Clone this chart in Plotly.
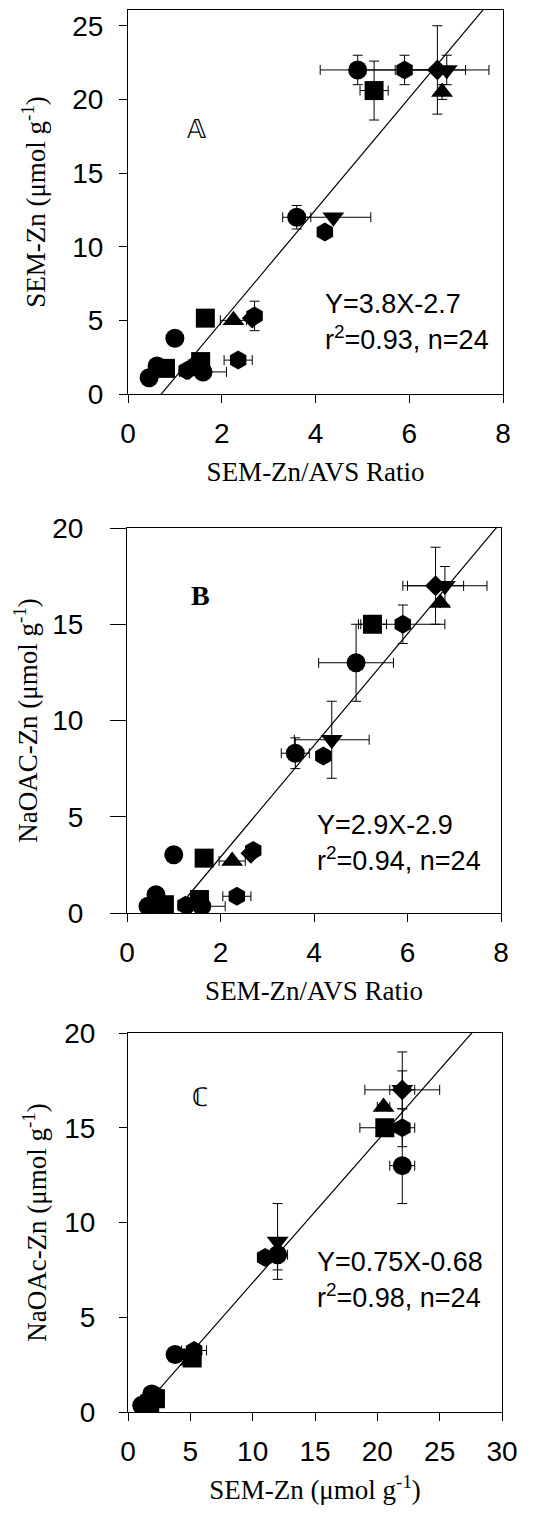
import plotly.graph_objects as go

# one row per sediment sample
symbols = ["circle", "hexagon", "square", "diamond", "triangle-down", "triangle-up",
           "circle", "triangle-down", "hexagon",
           "square", "triangle-up", "hexagon", "diamond", "circle",
           "hexagon", "circle", "circle", "square", "square", "circle",
           "diamond", "triangle-up", "triangle-down", "hexagon"]
ratio = [4.9, 5.9, 5.25, 6.6, 6.8, 6.7,
         3.6, 4.38, 4.2,
         1.65, 2.25, 2.7, 2.65, 1.0,
         2.35, 0.45, 0.62, 0.8, 1.55, 1.6,
         1.3, 1.4, 1.5, 1.25]
sem_zn = [22.0, 22.0, 20.6, 22.0, 22.0, 20.5,
          12.0, 12.0, 11.0,
          5.15, 5.0, 5.3, 5.15, 3.78,
          2.3, 1.1, 1.9, 1.74, 2.2, 1.5,
          1.65, 1.7, 2.0, 1.6]
naoac_zn = [13.0, 15.0, 15.0, 17.0, 17.0, 16.1,
            8.3, 9.0, 8.15,
            2.85, 2.7, 3.25, 3.1, 3.03,
            0.87, 0.35, 0.95, 0.43, 0.7, 0.35,
            0.35, 0.5, 0.55, 0.4]
ratio_err = [0.8, 0.9, 0.3, 0.6, 0.9, 0.0,
             0.3, 0.8, 0.0,
             0.0, 0.28, 0.15, 0.0, 0.0,
             0.3, 0.0, 0.0, 0.0, 0.0, 0.5,
             0.0, 0.0, 0.0, 0.0]
sem_err = [1.0, 1.0, 2.0, 3.0, 1.0, 0.5,
           0.8, 0.0, 0.0,
           0.0, 0.0, 1.0, 0.0, 0.0,
           0.0, 0.0, 0.0, 0.0, 0.0, 0.0,
           0.0, 0.0, 0.0, 0.0]
naoac_err = [2.0, 1.0, 0.0, 2.0, 1.0, 0.0,
             0.8, 2.0, 0.0,
             0.0, 0.0, 0.0, 0.0, 0.0,
             0.0, 0.0, 0.0, 0.0, 0.0, 0.0,
             0.0, 0.0, 0.0, 0.0]

# regression fits: slope, intercept, x extent of drawn line
fit_a = (3.8, -2.7, [0.5, 8.0])
fit_b = (2.9, -2.9, [1.3, 8.0])
fit_c = (0.75, -0.68, [1.0, 30.0])

W, H = 533, 1517
BLACK = "black"
SANS = "Liberation Sans, Arial, sans-serif"
SERIF = "Liberation Serif, Times New Roman, serif"
UNIT = "(μmol g<sup>-1</sup>)"


def px(x, y):
    return x / W, 1 - y / H


def marker_sizes():
    return [16 if s == "diamond" else 19 for s in symbols]


fig = go.Figure()

panels = [
    ("", ratio, sem_zn, ratio_err, sem_err, fit_a),
    ("2", ratio, naoac_zn, ratio_err, naoac_err, fit_b),
    ("3", sem_zn, naoac_zn, sem_err, naoac_err, fit_c),
]

for suffix, xs, ys, ex, ey, fit in panels:
    slope, icpt, fx = fit
    fig.add_trace(go.Scatter(
        x=fx, y=[slope * v + icpt for v in fx], mode="lines",
        line=dict(color=BLACK, width=1.2), xaxis="x" + suffix, yaxis="y" + suffix,
        showlegend=False, hoverinfo="skip"))
    fig.add_trace(go.Scatter(
        x=xs, y=ys, mode="markers",
        marker=dict(symbol=symbols, size=marker_sizes(), color=BLACK, opacity=1,
                    line=dict(width=0)),
        error_x=dict(type="data", array=ex, color=BLACK, thickness=1, width=5),
        error_y=dict(type="data", array=ey, color=BLACK, thickness=1, width=5),
        xaxis="x" + suffix, yaxis="y" + suffix, showlegend=False))

axis_common = dict(showline=True, linecolor=BLACK, linewidth=1.2, mirror=True,
                   ticks="outside", tickwidth=1, tickcolor=BLACK,
                   showgrid=False, zeroline=False, automargin=False,
                   tickfont=dict(family=SANS, size=28, color=BLACK))

# panel boxes in pixel coords: left, right, top, bottom
boxes = [(128, 503, 10, 394), (127, 501, 528, 913), (128, 502, 1033, 1412)]
xranges = [[0, 8], [0, 8], [0, 30]]
yranges = [[0, 26.07], [0, 20], [0, 20]]
xdticks = [2, 2, 5]
ytick_len = [8, 16, 8]
ylabel_gap = [10, 21, 18]
ytitle_gap = [18, 6, 9]
xtitles = ["SEM-Zn/AVS Ratio", "SEM-Zn/AVS Ratio", "SEM-Zn " + UNIT]
ytitles = ["SEM-Zn " + UNIT, "NaOAC-Zn " + UNIT, "NaOAc-Zn " + UNIT]

layout_axes = {}
for i, (l, r, t, b) in enumerate(boxes):
    n = "" if i == 0 else str(i + 1)
    layout_axes["xaxis" + n] = dict(
        axis_common, domain=[l / W, r / W], range=xranges[i], dtick=xdticks[i],
        anchor="y" + n, ticklen=8, ticklabelstandoff=6,
        title=dict(text=xtitles[i], font=dict(family=SERIF, size=27, color=BLACK), standoff=14))
    layout_axes["yaxis" + n] = dict(
        axis_common, domain=[1 - b / H, 1 - t / H], range=yranges[i], dtick=5,
        anchor="x" + n, ticklen=ytick_len[i], ticklabelstandoff=ylabel_gap[i],
        title=dict(text=ytitles[i], font=dict(family=SERIF, size=27, color=BLACK),
                   standoff=ytitle_gap[i]))

annotations = []
labels = [("𝔸", 197, 113, 26), ("<b>B</b>", 200, 595, 28), ("ℂ", 200, 1114, 26)]
for text, x, y, size in labels:
    ax, ay = px(x, y)
    annotations.append(dict(text=text, x=ax, y=ay, xref="paper", yref="paper",
                            showarrow=False, font=dict(family=SERIF, size=size, color=BLACK)))

equations = [
    ("Y=3.8X-2.7", "r<sup>2</sup>=0.93, n=24", 323, 304),
    ("Y=2.9X-2.9", "r<sup>2</sup>=0.94, n=24", 315, 825),
    ("Y=0.75X-0.68", "r<sup>2</sup>=0.98, n=24", 315, 1262),
]
for l1, l2, x, y in equations:
    for k, txt in enumerate([l1, l2]):
        ax, ay = px(x, y + k * 34)
        annotations.append(dict(text=txt, x=ax, y=ay, xref="paper", yref="paper",
                                xanchor="left", yanchor="middle", showarrow=False,
                                font=dict(family=SANS, size=27, color=BLACK)))

fig.update_layout(
    width=W, height=H, margin=dict(l=0, r=0, t=0, b=0),
    paper_bgcolor="white", plot_bgcolor="white",
    annotations=annotations, **layout_axes)

fig.write_html("out.html", config={"displayModeBar": False},
               post_script="document.body.style.margin='0';")
